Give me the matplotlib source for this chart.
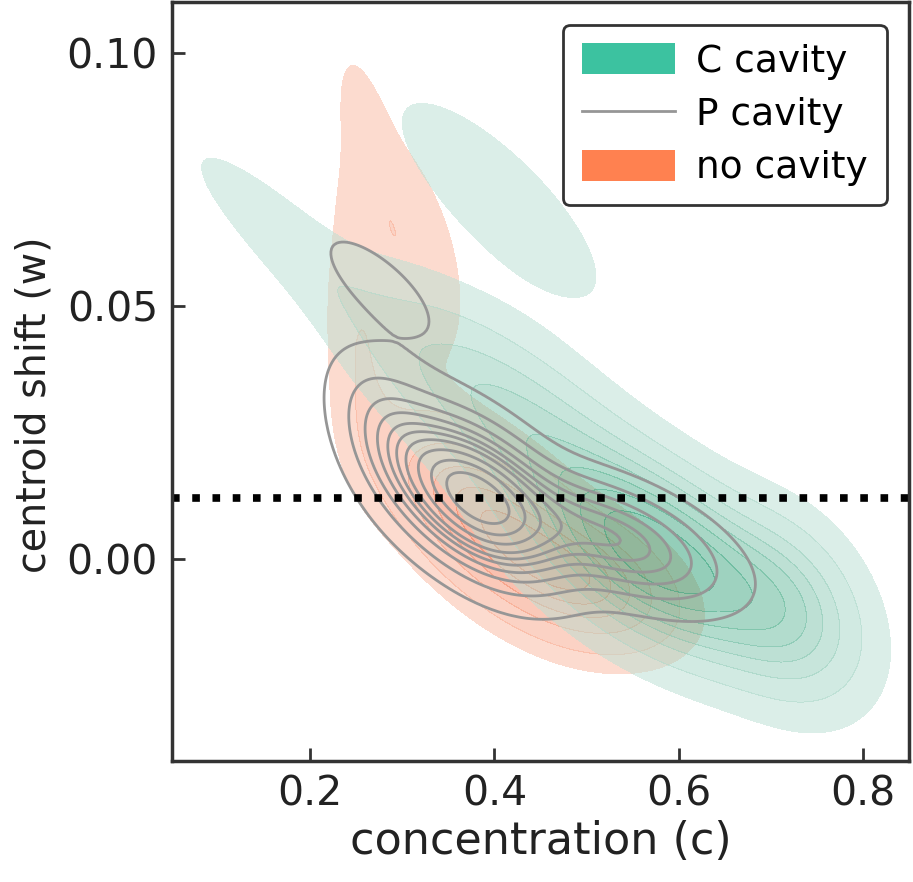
import numpy as np
import matplotlib
matplotlib.use("Agg")
import matplotlib.pyplot as plt
from matplotlib.colors import LinearSegmentedColormap
from matplotlib.patches import Patch
from matplotlib.lines import Line2D

# gaussian blobs
# centre x, centre y, spread x, spread y, correlation, weight
c_cx = [0.58, 0.42, 0.18, 0.405, 0.72]
c_cy = [0.0, 0.028, 0.062, 0.071, -0.01]
c_sx = [0.085, 0.10, 0.08, 0.072, 0.05]
c_sy = [0.012, 0.015, 0.014, 0.013, 0.011]
c_rho = [-0.55, -0.75, -0.9, -0.8, -0.3]
c_w = [1.0, 0.45, 0.05, 0.08, 0.2]

p_cx = [0.38, 0.53, 0.29, 0.275]
p_cy = [0.012, 0.004, 0.024, 0.054]
p_sx = [0.055, 0.07, 0.04, 0.055]
p_sy = [0.0095, 0.0075, 0.010, 0.009]
p_rho = [-0.5, -0.55, -0.5, -0.75]
p_w = [1.0, 0.45, 0.15, 0.048]

n_cx = [0.40, 0.50, 0.30, 0.26, 0.255]
n_cy = [0.007, -0.004, 0.062, 0.086, 0.04]
n_sx = [0.065, 0.055, 0.045, 0.02, 0.025]
n_sy = [0.011, 0.0075, 0.016, 0.01, 0.015]
n_rho = [-0.6, -0.4, -0.5, -0.6, -0.3]
n_w = [1.0, 0.5, 0.15, 0.022, 0.085]

threshold_w = 0.012
labels = ["C cavity", "P cavity", "no cavity"]
teal = "#3cc2a0"
orange = "#ff8150"
grey = "#969696"

xs = np.linspace(-0.05, 1.0, 400)
ys = np.linspace(-0.08, 0.15, 400)
X, Y = np.meshgrid(xs, ys)


def mixture(cx, cy, sx, sy, rho, w):
    z = np.zeros_like(X)
    for a, b, s1, s2, r, k in zip(cx, cy, sx, sy, rho, w):
        u = (X - a) / s1
        v = (Y - b) / s2
        q = (u**2 - 2*r*u*v + v**2) / (1 - r**2)
        z += k * np.exp(-q/2) / (s1*s2*np.sqrt(1 - r**2))
    return z


def iso_levels(z, props):
    vals = np.sort(z.ravel())[::-1]
    cum = np.cumsum(vals) / vals.sum()
    idx = np.searchsorted(cum, 1 - np.asarray(props))
    return np.unique(np.take(vals, idx, mode="clip"))


zc = mixture(c_cx, c_cy, c_sx, c_sy, c_rho, c_w)
zp = mixture(p_cx, p_cy, p_sx, p_sy, p_rho, p_w)
zn = mixture(n_cx, n_cy, n_sx, n_sy, n_rho, n_w)

plt.rcParams["font.family"] = "DejaVu Sans"
fig = plt.figure(figsize=(9.13, 8.82), dpi=100)
ax = fig.add_axes([172/913, 1-761/882, 737/913, 759/882])

lv = iso_levels(zn, np.linspace(0.05, 1, 7))
cm = LinearSegmentedColormap.from_list("o", ["#fbb8a0", "#f06035"])
ax.contourf(X, Y, zn, levels=lv, colors=[cm(t) for t in np.linspace(0, 1, len(lv)-1)], alpha=0.5)

lv = iso_levels(zc, np.linspace(0.05, 1, 9))
cm = LinearSegmentedColormap.from_list("t", ["#b9dfd3", "#2a9e74"])
ax.contourf(X, Y, zc, levels=lv, colors=[cm(t) for t in np.linspace(0, 1, len(lv)-1)], alpha=0.5)

lv = iso_levels(zp, np.linspace(0.05, 1, 11))
ax.contour(X, Y, zp, levels=lv[:-1], colors=grey, linewidths=2)

ax.axhline(threshold_w, color="black", linestyle=":", linewidth=5.5)

ax.set_xlim(0.05, 0.85)
ax.set_ylim(-0.04, 0.11)
ax.set_xticks([0.2, 0.4, 0.6, 0.8])
ax.set_yticks([0.0, 0.05, 0.10])
ax.set_yticklabels(["0.00", "0.05", "0.10"])
ax.tick_params(direction="in", length=9.5, width=2, labelsize=29.5, colors="#333333", labelcolor="#222222", pad=10)
for s in ax.spines.values():
    s.set_linewidth(2.5)
    s.set_color("#333333")
ax.set_xlabel("concentration (c)", fontsize=32, color="#222222")
ax.set_ylabel("centroid shift (w)", fontsize=28.5, color="#222222")
ax.xaxis.set_label_coords(0.5, -0.078)
ax.yaxis.set_label_coords(-0.16, 0.469)

handles = [Patch(facecolor=teal, edgecolor="none"),
           Line2D([0], [0], color=grey, linewidth=2),
           Patch(facecolor=orange, edgecolor="none")]
leg = ax.legend(handles, labels, loc="upper right", fontsize=27, frameon=True,
                fancybox=True, framealpha=1, handlelength=2.5, handleheight=0.9,
                borderaxespad=0.6, borderpad=0.5, labelspacing=0.45, handletextpad=0.55)
leg.get_frame().set_edgecolor("#333333")
leg.get_frame().set_linewidth(2)

fig.savefig("out.png", dpi=100)
